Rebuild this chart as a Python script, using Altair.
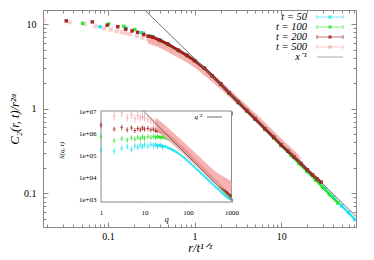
import altair as alt
import pandas as pd

FONT = "Liberation Serif"
GRAY = "#8a8a8a"
GUIDE_COLOR = "#6e6e6e"

SERIES = ["t = 50", "t = 100", "t = 200", "t = 500"]
COLORS = ["#1ae2f2", "#2ce52c", "#a31c1c", "#f6a6a6"]

# ---------------- main panel: C2(r,t)/r^(2a) versus r/t^(1/z) ----------------
X_T50 = [0.081, 0.162, 0.243, 0.324, 0.405, 0.49, 0.65, 0.81, 1.05, 1.3, 1.6, 2.0, 2.5,
         3.2, 4.0, 5.0, 6.5, 8.1, 10, 13, 16, 20, 25, 32, 40, 50, 60, 71]
Y_T50 = [9.3, 8.9, 7.9, 7.1, 6.4, 5.8, 4.9, 4.3, 3.6, 3.0, 2.45, 1.95, 1.52,
         1.18, 0.94, 0.75, 0.57, 0.46, 0.37, 0.285, 0.23, 0.183, 0.146, 0.113, 0.09, 0.071, 0.059, 0.049]
X_T100 = [0.051, 0.102, 0.153, 0.204, 0.255, 0.31, 0.41, 0.51, 0.66, 0.82, 1.0, 1.3, 1.6, 2.0,
          2.5, 3.2, 4.0, 5.0, 6.5, 8.2, 10, 13, 16, 20, 25, 30, 36, 45]
Y_T100 = [10.2, 10.0, 9.4, 8.6, 7.8, 7.2, 6.3, 5.6, 4.8, 4.2, 3.7, 3.0, 2.45, 1.95,
          1.52, 1.18, 0.94, 0.75, 0.57, 0.45, 0.365, 0.28, 0.225, 0.18, 0.143, 0.118, 0.097, 0.077]
X_T200 = [0.033, 0.066, 0.098, 0.13, 0.16, 0.19, 0.22, 0.26, 0.29, 0.33, 0.39, 0.49, 0.65, 0.82,
          1.0, 1.3, 1.6, 2.0, 2.5, 3.2, 4.0, 5.0, 6.5, 8.2, 10, 12, 14, 17, 20, 23, 26, 29]
Y_T200 = [10.9, 10.6, 9.7, 9.3, 8.7, 8.3, 8.0, 7.5, 7.2, 7.0, 6.5, 5.8, 4.9, 4.25,
          3.7, 3.0, 2.45, 1.96, 1.54, 1.2, 0.95, 0.76, 0.58, 0.46, 0.375, 0.315, 0.27, 0.225,
          0.19, 0.166, 0.148, 0.135]
X_T500 = [0.018, 0.036, 0.054, 0.072, 0.09, 0.108, 0.126, 0.144, 0.162, 0.18, 0.216, 0.25, 0.29,
          0.33, 0.38, 0.45, 0.55, 0.7, 0.9, 1.1, 1.4, 1.8, 2.3, 3.0, 4.0, 5.0, 6.5, 8.0, 10, 12, 14, 16]
Y_T500 = [10.9, 10.5, 10.0, 9.4, 8.9, 8.6, 8.3, 8.0, 7.8, 7.6, 7.2, 6.9, 6.6,
          6.3, 6.0, 5.5, 4.9, 4.3, 3.7, 3.2, 2.6, 2.1, 1.68, 1.3, 0.99, 0.8, 0.62, 0.5, 0.4, 0.335, 0.29, 0.255]
MAIN_X = [X_T50, X_T100, X_T200, X_T500]
MAIN_Y = [Y_T50, Y_T100, Y_T200, Y_T500]
MAIN_ERR = [0.03, 0.03, 0.05, 0.11]
A_GUIDE = 3.9            # x^-1 guide amplitude
GUIDE_X = [0.26, 73.0]

X_MAJOR = [0.1, 1, 10]
X_MINOR = [0.02, 0.03, 0.04, 0.05, 0.06, 0.07, 0.08, 0.09, 0.2, 0.3, 0.4, 0.5, 0.6, 0.7, 0.8, 0.9,
           2, 3, 4, 5, 6, 7, 8, 9, 20, 30, 40, 50, 60, 70]
Y_MAJOR = [0.1, 1, 10]
Y_MINOR = [0.04, 0.05, 0.06, 0.07, 0.08, 0.09, 0.2, 0.3, 0.4, 0.5, 0.6, 0.7, 0.8, 0.9,
           2, 3, 4, 5, 6, 7, 8, 9]

# ---------------- inset: S(q,t) versus q ----------------
Q = [1, 2, 3, 4, 5, 6, 7, 8, 9, 10, 12, 14, 16, 18, 20, 23, 26, 30, 35, 40, 50, 60, 70, 85,
     100, 120, 150, 180, 220, 270, 330, 400, 500, 600, 750, 1000]
S_T50 = [1.7e5, 1.5e5, 2.0e5, 2.4e5, 1.8e5, 2.6e5, 2.2e5, 2.8e5, 2.4e5, 2.9e5, 2.5e5, 3.0e5, 2.7e5,
         2.9e5, 2.6e5, 2.8e5, 2.4e5, 2.5e5, 2.1e5, 1.9e5, 1.5e5, 1.2e5, 9.5e4, 7e4,
         5.2e4, 3.8e4, 2.5e4, 1.8e4, 1.25e4, 8.5e3, 5.8e3, 4e3, 2.7e3, 1.9e3, 1.3e3, 9e2]
S_T100 = [6.8e5, 4.5e5, 5.5e5, 4.8e5, 6.0e5, 5.2e5, 6.3e5, 5.5e5, 6.6e5, 5.8e5, 6.8e5, 6.2e5, 7.0e5,
          6.4e5, 6.9e5, 6.3e5, 6.6e5, 5.9e5, 5.2e5, 4.5e5, 3.4e5, 2.6e5, 2.0e5, 1.4e5,
          1.0e5, 7.2e4, 4.6e4, 3.3e4, 2.2e4, 1.45e4, 9.8e3, 6.6e3, 4.3e3, 3.0e3, 2.0e3, 1.15e3]
S_T200 = [2.3e6, 1.5e6, 1.8e6, 1.4e6, 1.7e6, 1.3e6, 1.6e6, 1.4e6, 1.7e6, 1.5e6, 1.6e6, 1.4e6, 1.5e6,
          1.3e6, 1.35e6, 1.2e6, 1.1e6, 9.5e5, 7.8e5, 6.5e5, 4.4e5, 3.2e5, 2.4e5, 1.65e5,
          1.2e5, 8.2e4, 5.3e4, 3.7e4, 2.5e4, 1.65e4, 1.1e4, 7.5e3, 4.9e3, 3.4e3, 2.2e3, 1.3e3]
S_T500 = [1.0e7, 6e6, 8e6, 5e6, 6.5e6, 4.5e6, 6e6, 5e6, 5.5e6, 5e6, 4.2e6, 3.5e6, 3e6,
          2.6e6, 2.2e6, 1.8e6, 1.5e6, 1.15e6, 9e5, 7e5, 4.7e5, 3.4e5, 2.6e5, 1.8e5,
          1.3e5, 9.5e4, 6.3e4, 4.5e4, 3.1e4, 2.1e4, 1.45e4, 1.05e4, 7.5e3, 6e3, 4.8e3, 3.5e3]
INSET_S = [S_T50, S_T100, S_T200, S_T500]
IN_ERR_LOW = [1.35, 1.3, 1.3, 1.5]
IN_ERR_BAND = [1.15, 1.15, 1.2, 1.9]
B_GUIDE = 9e8            # q^-2 guide amplitude
GUIDE_Q = [9.5, 1000.0]
IN_Q_MAJOR = [1, 10, 100, 1000]
IN_Q_MINOR = [2, 3, 4, 5, 6, 7, 8, 9, 20, 30, 40, 50, 60, 70, 80, 90,
              200, 300, 400, 500, 600, 700, 800, 900]
IN_S_MAJOR = [1e3, 1e4, 1e5, 1e6, 1e7]
INSET_Q_DOMAIN = [1, 1000]
INSET_S_DOMAIN = [731, 1e7]

# ---------------- layout ----------------
W, H = 313, 217
IN_LEFT, IN_RIGHT, IN_TOP, IN_BOTTOM = 58, 188.5, 101, 192
MX = alt.Scale(type="log", domain=[0.0178, 73.0], range=[0, W], nice=False)
MY = alt.Scale(type="log", domain=[0.04, 14.65], range=[H, 0], nice=False)
IX = alt.Scale(type="log", domain=INSET_Q_DOMAIN, range=[IN_LEFT, IN_RIGHT], nice=False, clamp=True)
IY = alt.Scale(type="log", domain=INSET_S_DOMAIN, range=[IN_BOTTOM, IN_TOP], nice=False, clamp=True)

base_axis = dict(grid=False, domain=False, tickColor=GRAY, labelFont=FONT, labelColor="black",
                 titleFont=FONT, titleFontStyle="italic", titleFontWeight="normal",
                 titleColor="black", labelFlush=False, labelOverlap=False)


def tick_axis(orient, values, size, offset):
    """Ticks only (drawn inward by shifting the axis line inside the frame)."""
    return alt.Axis(orient=orient, values=values, tickSize=size, offset=offset, labels=False,
                    title=None, **base_axis)


# main labelled axes (major ticks)
ax_mx = alt.Axis(orient="bottom", values=X_MAJOR, offset=-5, tickSize=5, labelPadding=4,
                 labelFontSize=10, format="~g",
                 title="r/t¹ᐟᶻ", titleFontSize=12.5, titleY=25, titleBaseline="middle", **base_axis)
ax_my = alt.Axis(orient="left", values=Y_MAJOR, offset=-5, tickSize=5, labelPadding=7,
                 labelFontSize=10, format="~g",
                 title="C₂(r, t)/r²ᵅ", titleFontSize=12.5, titleX=-34, titleBaseline="middle",
                 **base_axis)
# inset labelled axes
ax_ix = alt.Axis(orient="bottom", values=IN_Q_MAJOR, offset=-(H - IN_BOTTOM) - 4, tickSize=4,
                 labelPadding=6, labelFontSize=7, format="d",
                 title="q", titleFontSize=8, titleY=21, titleBaseline="middle", **base_axis)
ax_iy = alt.Axis(orient="left", values=IN_S_MAJOR, offset=-IN_LEFT - 4, tickSize=4, labelPadding=5,
                 labelFontSize=7, labelExpr="'1e+0' + round(log(datum.value) / LN10)",
                 title="S(q, t)", titleFontSize=7, titleX=-44, titleY=140, titleBaseline="middle",
                 **base_axis)


def main_df(i):
    ys, e = MAIN_Y[i], MAIN_ERR[i]
    return pd.DataFrame({"x": MAIN_X[i], "y": ys,
                         "lo": [v * (1 - e) for v in ys], "hi": [v * (1 + e) for v in ys]})


def inset_df(i):
    ss = INSET_S[i]
    fl, fb = IN_ERR_LOW[i], IN_ERR_BAND[i]
    return pd.DataFrame({"q": Q, "s": ss,
                         "lo": [v / fl for v in ss], "hi": [v * fl for v in ss],
                         "blo": [v / fb for v in ss], "bhi": [v * fb for v in ss]})


def mx(field="x", axis=None):
    return alt.X(f"{field}:Q", scale=MX, axis=axis)


def my(field="y", axis=None):
    return alt.Y(f"{field}:Q", scale=MY, axis=axis)


def ix(field="q", axis=None):
    return alt.X(f"{field}:Q", scale=IX, axis=axis)


def iy(field="s", axis=None):
    return alt.Y(f"{field}:Q", scale=IY, axis=axis)


layers = []
# t = 500 band (drawn first, beneath the others); carries minor bottom/left ticks
d500 = main_df(3)
layers.append(
    alt.Chart(d500).transform_filter(alt.datum.x >= 0.28)
    .mark_area(color=COLORS[3], opacity=0.85, clip=True)
    .encode(x=mx(axis=tick_axis("bottom", X_MINOR, 3, -3)),
            y=my("lo", axis=tick_axis("left", Y_MINOR, 3, -3)), y2="hi:Q")
)
# t = 500 points; carries major top/right mirror ticks
layers.append(
    alt.Chart(d500).mark_square(color=COLORS[3], opacity=0.55, size=18, clip=True)
    .encode(x=mx(axis=tick_axis("top", X_MAJOR, 5, -5)),
            y=my(axis=tick_axis("right", Y_MAJOR, 5, -5)))
)
widths = [2.2, 2.2, 2.8]
for i in range(3):
    d = main_df(i)
    if i == 0:
        enc = dict(x=mx(axis=tick_axis("top", X_MINOR, 3, -3)),
                   y=my(axis=tick_axis("right", Y_MINOR, 3, -3)))
    else:
        enc = dict(x=mx(), y=my())
    layers.append(
        alt.Chart(d).transform_filter(alt.datum.x >= 0.28)
        .mark_line(color=COLORS[i], strokeWidth=widths[i], clip=True)
        .encode(**enc)
    )
    layers.append(
        alt.Chart(d).mark_square(color=COLORS[i], opacity=0.95, size=12, clip=True)
        .encode(x=mx(), y=my())
    )
guide = pd.DataFrame({"x": GUIDE_X, "y": [A_GUIDE / v for v in GUIDE_X]})
layers.append(
    alt.Chart(guide).mark_line(color=GUIDE_COLOR, strokeWidth=1, clip=True)
    .encode(x=mx(axis=ax_mx), y=my(axis=ax_my))
)

# legend (top right, gnuplot style)
leg = pd.DataFrame({"label": SERIES + ["x⁻¹"], "py": [7 + 10 * i for i in range(5)],
                    "col": COLORS + [GUIDE_COLOR]})
layers.append(
    alt.Chart(leg).mark_text(align="right", baseline="middle", font=FONT, fontSize=10.5,
                             fontStyle="italic", color="black")
    .encode(x=alt.value(264), y=alt.Y("py:Q", scale=None, axis=None), text="label:N")
)
layers.append(
    alt.Chart(leg).mark_rule(strokeWidth=1, opacity=0.6)
    .encode(x=alt.value(274), x2=alt.value(300), y=alt.Y("py:Q", scale=None, axis=None),
            color=alt.Color("col:N", scale=None))
)
caps = pd.DataFrame({"px": [274, 300] * 4, "py": [7 + 10 * (k // 2) for k in range(8)],
                     "col": [COLORS[k // 2] for k in range(8)]})
layers.append(
    alt.Chart(caps).mark_tick(orient="vertical", size=4, thickness=1, opacity=0.7)
    .encode(x=alt.X("px:Q", scale=None, axis=None), y=alt.Y("py:Q", scale=None, axis=None),
            color=alt.Color("col:N", scale=None))
)
layers.append(
    alt.Chart(leg.iloc[:4]).mark_square(size=10, opacity=0.8)
    .encode(x=alt.value(287), y=alt.Y("py:Q", scale=None, axis=None),
            color=alt.Color("col:N", scale=None))
)

# ---------------- inset layers ----------------
frame = pd.DataFrame({"q0": [INSET_Q_DOMAIN[0]], "q1": [INSET_Q_DOMAIN[1]],
                      "s0": [INSET_S_DOMAIN[0]], "s1": [INSET_S_DOMAIN[1]]})
layers.append(
    alt.Chart(frame).mark_rect(fill="white", stroke=GRAY, strokeWidth=1)
    .encode(x=ix("q0", axis=tick_axis("bottom", IN_Q_MINOR, 2, -(H - IN_BOTTOM) - 2)), x2="q1:Q",
            y=iy("s0", axis=tick_axis("right", IN_S_MAJOR, 3, -(W - IN_RIGHT) - 3)), y2="s1:Q")
)
for i in range(4):
    d = inset_df(i)
    low = alt.Chart(d).transform_filter(alt.datum.q < 30)
    high = alt.Chart(d).transform_filter(alt.datum.q >= 18)
    if i == 0:
        rule_x = ix(axis=tick_axis("top", IN_Q_MAJOR, 4, -IN_TOP - 4))
        tick_x = ix(axis=tick_axis("top", IN_Q_MINOR, 2, -IN_TOP - 2))
    else:
        rule_x = ix()
        tick_x = ix()
    layers.append(
        low.mark_rule(color=COLORS[i], strokeWidth=1, opacity=0.8)
        .encode(x=rule_x, y=iy("lo"), y2="hi:Q")
    )
    layers.append(
        low.mark_tick(color=COLORS[i], orient="horizontal", size=3, thickness=1)
        .encode(x=tick_x, y=iy())
    )
    layers.append(
        high.mark_area(color=COLORS[i], opacity=0.85 if i == 3 else 0.9)
        .encode(x=ix(), y=iy("blo"), y2="bhi:Q")
    )
iguide = pd.DataFrame({"q": GUIDE_Q, "s": [B_GUIDE / (v * v) for v in GUIDE_Q]})
layers.append(
    alt.Chart(iguide).mark_line(color=GUIDE_COLOR, strokeWidth=1)
    .encode(x=ix(axis=ax_ix), y=iy(axis=ax_iy))
)
ileg = pd.DataFrame({"label": ["q⁻²"], "py": [107]})
layers.append(
    alt.Chart(ileg).mark_text(align="right", baseline="middle", font=FONT, fontSize=7,
                              fontStyle="italic", color="black")
    .encode(x=alt.value(159), y=alt.Y("py:Q", scale=None, axis=None), text="label:N")
)
layers.append(
    alt.Chart(ileg).mark_rule(color=GUIDE_COLOR, strokeWidth=1)
    .encode(x=alt.value(164), x2=alt.value(179), y=alt.Y("py:Q", scale=None, axis=None))
)

chart = (
    alt.layer(*layers)
    .resolve_scale(x="independent", y="independent")
    .properties(width=W, height=H, padding={"left": 35, "top": 2, "right": 10, "bottom": 33},
                autosize=alt.AutoSizeParams(type="none"))
    .configure_view(stroke=GRAY, strokeWidth=1)
    .configure_axis(zindex=1)
)

chart.save("out.html", embed_options={"renderer": "svg", "actions": False})
